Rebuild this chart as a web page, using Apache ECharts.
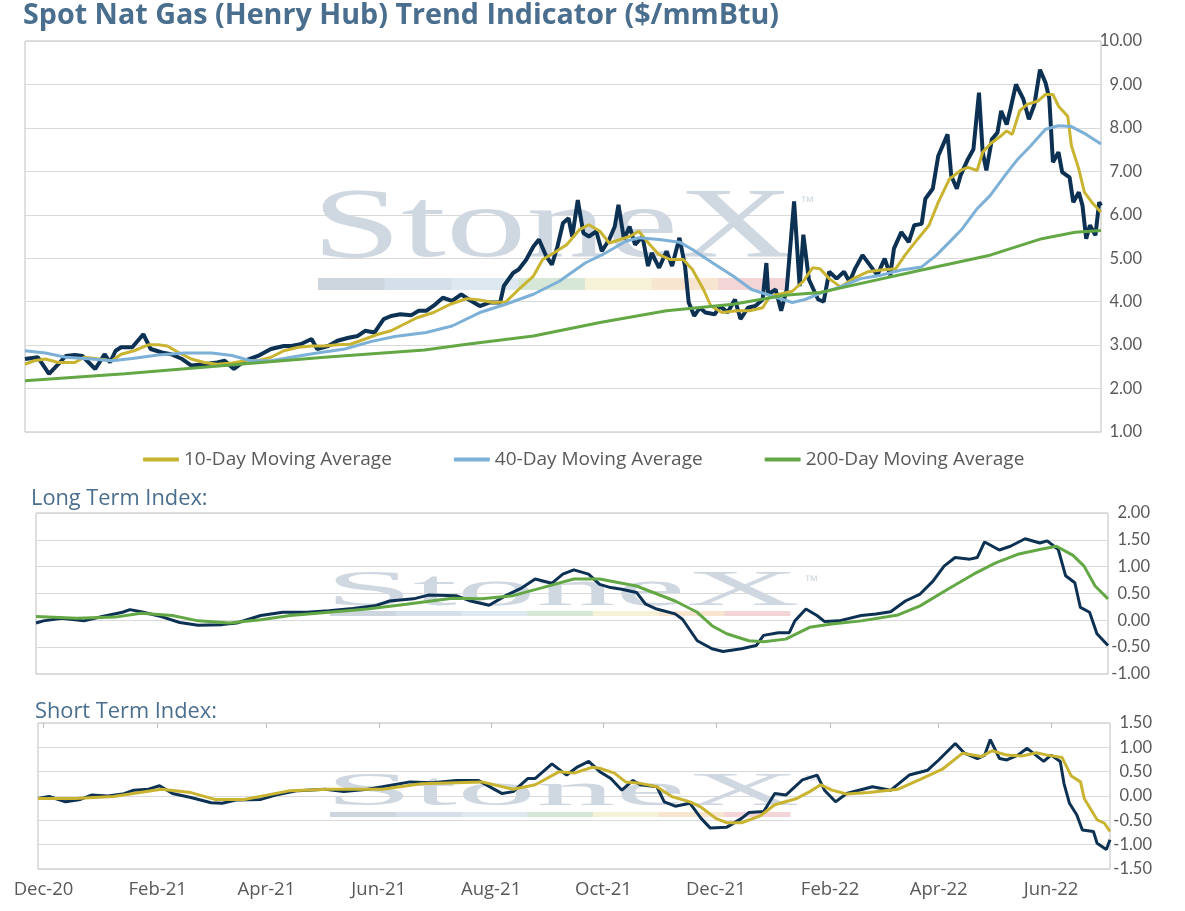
<!DOCTYPE html>
<html>
<head>
<meta charset="utf-8">
<script src="https://cdn.jsdelivr.net/npm/echarts@6/dist/echarts.min.js"></script>
<style>
html,body{margin:0;padding:0;background:#fff;}
#c{width:1185px;height:911px;}
</style>
</head>
<body>
<div id="c"></div>
<script>
// Day offsets are counted from START (2020-11-28)
const START_DATE = '2020-11-28';
const END_DAY = 582;

const xTickDates = ['2020-12-01','2021-02-01','2021-04-01','2021-06-01','2021-08-01','2021-10-01','2021-12-01','2022-02-01','2022-04-01','2022-06-01'];
const xTickLabels = ['Dec-20','Feb-21','Apr-21','Jun-21','Aug-21','Oct-21','Dec-21','Feb-22','Apr-22','Jun-22'];

const priceTicks = [1,2,3,4,5,6,7,8,9,10];
const longTicks = [-1,-0.5,0,0.5,1,1.5,2];
const shortTicks = [-1.5,-1,-0.5,0,0.5,1,1.5];

// Spot price ($/mmBtu)
const spotDays = [0,7,13,18,22,27,31,38,43,46,49,52,58,64,68,74,79,85,90,97,104,108,113,119,126,133,140,144,149,155,158,164,169,175,180,184,189,194,198,203,209,213,217,222,226,231,236,240,246,251,257,259,264,267,271,275,278,282,285,288,291,294,296,299,302,305,309,312,316,319,321,324,327,330,334,337,339,343,347,350,354,357,359,362,365,368,373,376,380,384,387,391,395,399,401,402,406,409,412,416,419,421,424,429,432,435,439,443,446,449,453,457,461,465,468,470,474,478,481,485,487,491,494,499,501,504,506,510,513,516,518,520,523,526,528,531,533,536,540,543,546,549,552,554,556,559,561,565,567,570,572,574,576,579,581,582];
const spotVals = [2.68,2.72,2.34,2.56,2.75,2.77,2.75,2.45,2.79,2.60,2.87,2.95,2.95,3.25,2.91,2.83,2.79,2.68,2.53,2.56,2.60,2.64,2.45,2.64,2.75,2.91,2.98,2.98,3.02,3.14,2.91,2.98,3.10,3.17,3.21,3.33,3.29,3.60,3.67,3.71,3.69,3.79,3.79,3.94,4.09,4.02,4.17,4.05,3.90,3.98,3.98,4.36,4.66,4.74,4.96,5.27,5.43,5.04,4.85,5.27,5.81,5.92,5.50,6.34,5.58,5.50,5.62,5.16,5.43,5.73,6.23,5.43,5.73,5.31,5.50,4.82,5.12,4.78,5.16,4.82,5.47,4.82,3.98,3.67,3.86,3.75,3.71,3.90,3.75,4.05,3.60,3.86,3.90,4.05,4.89,4.17,4.28,3.79,4.28,6.31,4.36,5.54,4.51,4.05,4.00,4.69,4.53,4.69,4.46,4.76,5.07,4.84,4.61,4.99,4.61,5.22,5.60,5.37,5.76,5.79,6.37,6.60,7.36,7.85,6.90,6.60,6.90,7.28,7.51,8.81,7.44,7.02,7.74,7.89,8.39,8.08,8.43,9.00,8.66,8.20,8.54,9.34,9.04,8.69,7.21,7.44,6.98,6.86,6.29,6.52,6.21,5.45,5.76,5.53,6.29,6.21];

// 10-Day Moving Average
const ma10Days = [0,5,11,18,27,32,40,47,52,59,67,72,77,83,90,97,104,112,119,126,133,140,148,155,162,169,176,184,191,198,205,212,221,230,239,246,253,260,267,275,280,286,293,300,305,311,316,322,327,332,338,343,349,356,361,367,371,377,385,392,399,403,408,415,421,426,430,435,441,448,456,463,471,476,483,489,494,500,506,510,515,518,522,528,531,534,538,542,548,552,556,559,564,566,570,573,577,582];
const ma10Vals = [2.56,2.64,2.68,2.60,2.60,2.72,2.68,2.64,2.79,2.87,3.01,3.01,2.98,2.83,2.68,2.60,2.56,2.59,2.64,2.64,2.72,2.87,2.95,2.98,2.98,3.01,3.02,3.14,3.25,3.33,3.48,3.63,3.75,3.94,4.07,4.04,3.98,3.99,4.28,4.59,4.97,5.12,5.31,5.66,5.77,5.62,5.35,5.43,5.50,5.62,5.31,5.08,4.97,4.97,4.74,4.28,3.90,3.75,3.79,3.79,3.86,4.13,4.17,4.24,4.47,4.78,4.76,4.53,4.34,4.53,4.69,4.73,4.76,5.07,5.45,5.76,6.29,6.82,7.02,7.09,7.02,7.44,7.63,7.82,7.93,7.85,8.39,8.54,8.62,8.77,8.77,8.50,8.27,7.59,7.05,6.52,6.29,6.06];

// 40-Day Moving Average
const ma40Days = [0,11,22,36,47,58,72,86,101,112,122,133,144,158,173,187,200,217,231,246,260,275,289,303,314,325,332,343,354,361,372,383,393,404,415,422,430,441,452,463,474,485,493,500,507,515,522,530,537,544,552,559,566,574,582];
const ma40Vals = [2.87,2.82,2.72,2.68,2.64,2.69,2.77,2.82,2.82,2.76,2.64,2.64,2.72,2.82,2.91,3.08,3.20,3.29,3.44,3.75,3.94,4.17,4.47,4.89,5.12,5.39,5.47,5.43,5.37,5.20,4.89,4.59,4.28,4.13,3.98,4.05,4.19,4.34,4.53,4.61,4.73,4.80,5.07,5.37,5.68,6.14,6.44,6.90,7.28,7.59,7.97,8.05,8.03,7.85,7.63];

// 200-Day Moving Average
const ma200Days = [0,54,108,162,216,239,275,311,347,383,411,430,448,485,522,550,568,582];
const ma200Vals = [2.18,2.34,2.53,2.72,2.89,3.02,3.21,3.52,3.79,3.94,4.15,4.21,4.38,4.73,5.07,5.45,5.60,5.64];

// Long Term Index
const longADays = [0,4,14,26,36,47,51,57,68,78,88,101,109,122,134,147,159,172,184,192,205,213,228,236,246,255,263,271,280,286,292,300,306,312,318,326,331,337,347,351,359,367,373,383,391,395,403,409,412,418,424,428,436,448,456,464,472,480,487,493,499,507,511,515,523,529,537,545,549,555,559,564,567,572,576,582];
const longAVals = [-0.05,-0.01,0.04,-0.01,0.07,0.15,0.20,0.16,0.07,-0.04,-0.09,-0.08,-0.05,0.09,0.15,0.15,0.18,0.22,0.27,0.36,0.40,0.47,0.46,0.36,0.28,0.46,0.59,0.77,0.69,0.86,0.94,0.86,0.67,0.61,0.58,0.52,0.30,0.21,0.12,0.02,-0.38,-0.53,-0.58,-0.53,-0.47,-0.28,-0.23,-0.23,-0.01,0.21,0.09,-0.02,-0.01,0.09,0.12,0.16,0.36,0.49,0.73,1.01,1.17,1.14,1.17,1.46,1.31,1.38,1.52,1.44,1.48,1.32,0.83,0.70,0.24,0.15,-0.25,-0.47];
const longBDays = [0,22,43,57,74,88,105,122,138,159,180,201,226,242,259,275,292,306,326,347,359,367,375,387,395,407,420,432,448,468,480,495,509,521,533,545,554,563,569,575,582];
const longBVals = [0.07,0.04,0.06,0.13,0.09,-0.01,-0.05,0.01,0.09,0.15,0.21,0.30,0.41,0.40,0.46,0.61,0.77,0.77,0.64,0.36,0.15,-0.10,-0.25,-0.38,-0.40,-0.35,-0.13,-0.07,-0.01,0.10,0.27,0.58,0.86,1.07,1.23,1.32,1.38,1.21,1.01,0.64,0.40];

// Short Term Index
const shortADays = [0,6,15,23,29,38,46,52,60,66,73,83,94,100,108,121,129,141,156,166,179,187,202,214,227,239,252,258,266,270,279,287,293,299,305,311,317,323,327,336,340,346,354,360,365,374,382,386,394,400,406,415,423,427,433,439,453,463,473,483,489,498,503,510,514,517,522,526,532,537,546,550,555,557,560,564,567,573,575,580,582];
const shortAVals = [-0.05,-0.01,-0.12,-0.07,0.02,0.00,0.04,0.12,0.14,0.21,0.05,-0.03,-0.14,-0.15,-0.08,-0.07,0.02,0.11,0.14,0.09,0.14,0.19,0.29,0.27,0.32,0.32,0.05,0.09,0.36,0.36,0.66,0.43,0.60,0.71,0.50,0.36,0.12,0.32,0.23,0.19,-0.12,-0.21,-0.15,-0.46,-0.66,-0.64,-0.46,-0.34,-0.32,0.05,0.02,0.33,0.43,0.12,-0.12,0.05,0.19,0.12,0.43,0.53,0.74,1.08,0.88,0.77,0.84,1.16,0.77,0.74,0.84,0.98,0.71,0.84,0.71,0.26,-0.15,-0.39,-0.70,-0.73,-0.97,-1.10,-0.90];
const shortBDays = [0,20,41,67,83,96,112,137,158,187,208,241,258,270,283,291,301,305,313,319,327,336,344,354,360,368,374,382,392,400,412,419,425,431,439,451,467,479,491,502,512,518,526,534,542,548,556,561,566,568,575,579,582];
const shortBVals = [-0.05,-0.05,-0.01,0.14,0.07,-0.07,-0.07,0.11,0.14,0.14,0.25,0.29,0.14,0.23,0.50,0.47,0.59,0.57,0.47,0.29,0.26,0.19,-0.01,-0.12,-0.23,-0.46,-0.55,-0.55,-0.41,-0.18,-0.05,0.09,0.23,0.12,0.04,0.07,0.14,0.34,0.55,0.88,0.81,0.93,0.84,0.82,0.89,0.84,0.79,0.41,0.29,-0.05,-0.49,-0.56,-0.73];

// ---------- build ----------
const DAY = 86400000;
const START = Date.parse(START_DATE + 'T00:00:00Z');
const tickDays = xTickDates.map(s => Math.round((Date.parse(s + 'T00:00:00Z') - START) / DAY));
const pairs = (d, v) => d.map((x, i) => [x, v[i]]);

const NAVY = '#0c3152', GOLD = '#c8b430', BLUE = '#7cb0d7', GREEN = '#63a845';
const AXT = '#595959', TITLE = '#4a6e8e', FONT = 'Open Sans', NUMFONT = 'Lato';
const GRIDC = '#d9d9d9', BORDER = '#bfbfbf';

const grids = [
  {left: 25, top: 41, width: 1076, height: 391},
  {left: 36, top: 513, width: 1072, height: 161},
  {left: 38, top: 723, width: 1072, height: 146}
];
grids.forEach(g => { g.show = true; g.borderColor = BORDER; g.borderWidth = 1; g.containLabel = false; });

function xAx(gi, labels) {
  return {
    type: 'value', gridIndex: gi, min: 0, max: END_DAY,
    axisLine: {show: false}, axisTick: {show: false}, splitLine: {show: false},
    axisLabel: labels ? {
      show: true, customValues: tickDays, color: AXT, fontFamily: FONT, fontSize: 18.5, margin: 11,
      formatter: v => { const i = tickDays.indexOf(Math.round(v)); return i >= 0 ? xTickLabels[i] : ''; }
    } : {show: false}
  };
}
function yAx(gi, ticks, margin) {
  return {
    type: 'value', gridIndex: gi, position: 'right',
    min: ticks[0], max: ticks[ticks.length - 1], interval: ticks[1] - ticks[0],
    axisLine: {show: false}, axisTick: {show: false},
    splitLine: {show: true, lineStyle: {color: GRIDC, width: 1}},
    axisLabel: {color: AXT, fontFamily: NUMFONT, fontSize: 16.5, align: 'right', margin: margin,
      formatter: v => v.toFixed(2)}
  };
}

const xAxes = [xAx(0, false), xAx(1, false), xAx(2, true)];
// tick marks along the top of the short-term panel
xAxes.push({
  type: 'value', gridIndex: 2, position: 'top', min: 0, max: END_DAY,
  axisLine: {show: false}, splitLine: {show: false}, axisLabel: {show: false},
  axisTick: {show: true, inside: true, length: 5, customValues: tickDays, lineStyle: {color: BORDER}}
});

function line(name, xi, yi, data, color, w, z) {
  return {name, type: 'line', xAxisIndex: xi, yAxisIndex: yi, data, symbol: 'none', showSymbol: false,
    smooth: false, lineStyle: {color, width: w}, itemStyle: {color}, z: z || 2, animation: false};
}

const barColors = ['#cdd6df','#d4dfea','#dde8f1','#d6e6d7','#f6f2d7','#f8e5cf','#f3d5d8'];
function watermark(x, y, w, capH, barX, barW, barY, barH, tmX, tmY) {
  const els = [];
  const fs = 96;
  const natW = 279, natCap = 63.5;
  els.push({type: 'text', x: x, y: y, scaleX: w / natW, scaleY: capH / natCap, z: 1, silent: true,
    style: {text: 'StoneX', fontFamily: 'Liberation Serif', fontSize: fs, fill: '#cfd7e0', verticalAlign: 'top'}});
  els.push({type: 'text', x: tmX, y: tmY, z: 1, silent: true,
    style: {text: '\u2122', fontFamily: 'Liberation Sans', fontSize: 14, fill: '#cfd7e0', verticalAlign: 'top'}});
  const sw = barW / 7;
  for (let i = 0; i < 7; i++) {
    els.push({type: 'rect', z: 1, silent: true, shape: {x: barX + i * sw, y: barY, width: sw + 0.5, height: barH},
      style: {fill: barColors[i]}});
  }
  return els;
}

const option = {
  animation: false,
  backgroundColor: '#ffffff',
  title: [
    {text: 'Spot Nat Gas (Henry Hub) Trend Indicator ($/mmBtu)', left: 18, top: -4,
      textStyle: {color: TITLE, fontFamily: FONT, fontWeight: 'bold', fontSize: 28.7}},
    {text: 'Long Term Index:', left: 26, top: 483,
      textStyle: {color: TITLE, fontFamily: FONT, fontWeight: 'normal', fontSize: 21.8}},
    {text: 'Short Term Index:', left: 30, top: 696,
      textStyle: {color: TITLE, fontFamily: FONT, fontWeight: 'normal', fontSize: 21.8}}
  ],
  legend: {
    data: ['10-Day Moving Average', '40-Day Moving Average', '200-Day Moving Average'],
    left: 138, top: 445, itemWidth: 36, itemHeight: 4, itemGap: 62, icon: 'roundRect',
    textStyle: {color: AXT, fontFamily: FONT, fontSize: 19}
  },
  grid: grids,
  xAxis: xAxes,
  yAxis: [yAx(0, priceTicks, 41), yAx(1, longTicks, 42), yAx(2, shortTicks, 42)],
  graphic: [].concat(
    watermark(312, 180, 467, 66, 318, 467, 278, 12, 800, 195),
    watermark(325, 566, 460, 34, 330, 460, 611, 5, 804, 574),
    watermark(325, 769, 460, 31, 330, 460, 812, 5, 804, 774)
  ),
  series: [
    line('Spot', 0, 0, pairs(spotDays, spotVals), NAVY, 4),
    line('10-Day Moving Average', 0, 0, pairs(ma10Days, ma10Vals), GOLD, 3),
    line('40-Day Moving Average', 0, 0, pairs(ma40Days, ma40Vals), BLUE, 3),
    line('200-Day Moving Average', 0, 0, pairs(ma200Days, ma200Vals), GREEN, 3),
    line('Long Term Index', 1, 1, pairs(longADays, longAVals), NAVY, 3),
    line('Long Term Signal', 1, 1, pairs(longBDays, longBVals), GREEN, 3),
    line('Short Term Index', 2, 2, pairs(shortADays, shortAVals), NAVY, 3),
    line('Short Term Signal', 2, 2, pairs(shortBDays, shortBVals), GOLD, 3)
  ]
};

const chart = echarts.init(document.getElementById('c'), null, {renderer: 'canvas'});
chart.setOption(option);
</script>
</body>
</html>
